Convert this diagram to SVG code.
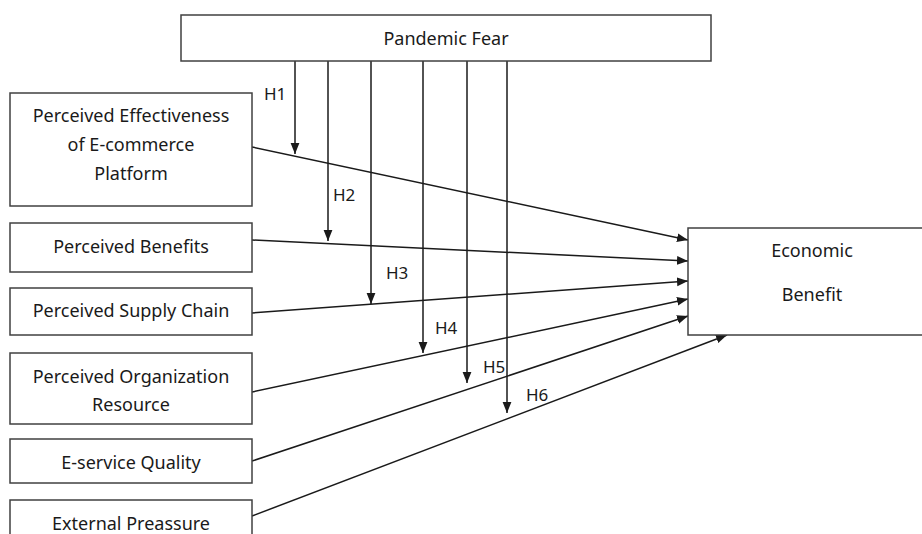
<svg xmlns="http://www.w3.org/2000/svg" width="922" height="534" viewBox="0 0 922 534">
<style>
.box{fill:#fff;stroke:#404040;stroke-width:1.5}
.t{font-family:"Noto Sans","Open Sans",sans-serif;font-size:18px;fill:#1a1a1a;text-anchor:middle;dominant-baseline:central}
.h{font-family:"Noto Sans","Open Sans",sans-serif;font-size:17px;fill:#1a1a1a;dominant-baseline:central}
.c{stroke:#1a1a1a;stroke-width:1.5;fill:none;marker-end:url(#a)}
</style>
<defs>
<marker id="a" viewBox="0 0 10 10" refX="10" refY="5" markerWidth="11" markerHeight="11" markerUnits="userSpaceOnUse" orient="auto">
<path d="M0,1 L10,5 L0,9 z" fill="#1a1a1a"/>
</marker>
</defs>
<rect width="922" height="534" fill="#fff"/>
<g id="connectors">
<line class="c" x1="295" y1="61" x2="295" y2="154"/>
<line class="c" x1="328" y1="61" x2="328" y2="241"/>
<line class="c" x1="371" y1="61" x2="371" y2="304"/>
<line class="c" x1="423" y1="61" x2="423" y2="353"/>
<line class="c" x1="467" y1="61" x2="467" y2="383"/>
<line class="c" x1="507" y1="61" x2="507" y2="413"/>
<line class="c" x1="252" y1="147" x2="688" y2="240"/>
<line class="c" x1="252" y1="240" x2="688" y2="261"/>
<line class="c" x1="252" y1="313" x2="688" y2="281"/>
<line class="c" x1="252" y1="392" x2="688" y2="299"/>
<line class="c" x1="252" y1="461" x2="688" y2="316"/>
<line class="c" x1="252" y1="516" x2="727" y2="335"/>
<text class="h" x="264" y="93">H1</text>
<text class="h" x="333" y="194">H2</text>
<text class="h" x="386" y="272">H3</text>
<text class="h" x="435" y="327">H4</text>
<text class="h" x="483" y="366">H5</text>
<text class="h" x="526" y="394">H6</text>
</g>
<g id="pandemic-fear">
<rect class="box" x="181" y="15" width="530" height="46"/>
<text class="t" x="446" y="38">Pandemic Fear</text>
</g>
<g id="effectiveness">
<rect class="box" x="10" y="93" width="242" height="113"/>
<text class="t" x="131" y="115">Perceived Effectiveness</text>
<text class="t" x="131" y="144">of E-commerce</text>
<text class="t" x="131" y="173">Platform</text>
</g>
<g id="benefits">
<rect class="box" x="10" y="223" width="242" height="49"/>
<text class="t" x="131" y="246">Perceived Benefits</text>
</g>
<g id="supply-chain">
<rect class="box" x="10" y="288" width="242" height="47"/>
<text class="t" x="131" y="310">Perceived Supply Chain</text>
</g>
<g id="organization">
<rect class="box" x="10" y="353" width="242" height="71"/>
<text class="t" x="131" y="376">Perceived Organization</text>
<text class="t" x="131" y="404">Resource</text>
</g>
<g id="eservice">
<rect class="box" x="10" y="439" width="242" height="44"/>
<text class="t" x="131" y="462">E-service Quality</text>
</g>
<g id="external">
<rect class="box" x="10" y="500" width="242" height="50"/>
<text class="t" x="131" y="523">External Preassure</text>
</g>
<g id="economic-benefit">
<rect class="box" x="688" y="228" width="250" height="107"/>
<text class="t" x="812" y="250">Economic</text>
<text class="t" x="812" y="294">Benefit</text>
</g>
</svg>
